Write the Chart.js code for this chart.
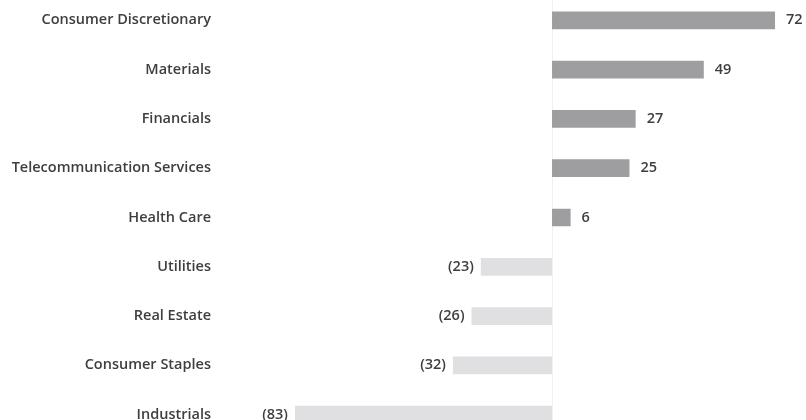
<!DOCTYPE html>
<html>
<head>
<meta charset="utf-8">
<script src="https://cdn.jsdelivr.net/npm/chart.js@4.4.1/dist/chart.umd.min.js"></script>
<style>
  html, body { margin: 0; padding: 0; background: #fff; overflow: hidden; width: 806px; height: 420px; }
  #wrap { position: absolute; left: 0; top: -22px; width: 806px; height: 479px; }
</style>
</head>
<body>
<div id="wrap"><canvas id="chart" width="806" height="479"></canvas></div>
<script>
const sectors = [
  'Consumer Discretionary', 'Materials', 'Financials', 'Telecommunication Services',
  'Health Care', 'Utilities', 'Real Estate', 'Consumer Staples', 'Industrials'
];
const values = [72, 49, 27, 25, 6, -23, -26, -32, -83];

const posColor = '#9e9ea1';
const negColor = '#e0e0e2';
const textColor = '#3e3e3e';
const font = { family: '"Open Sans", Lato, sans-serif', size: 14.5, weight: '600' };

// zero line + value labels next to each bar
const barLabels = {
  id: 'barLabels',
  beforeDatasetsDraw(chart) {
    const { ctx, chartArea } = chart;
    const x0 = chart.scales.x.getPixelForValue(0);
    ctx.save();
    ctx.strokeStyle = '#f0f0f0';
    ctx.lineWidth = 1;
    ctx.beginPath();
    ctx.moveTo(Math.round(x0) + 0.5, chartArea.top);
    ctx.lineTo(Math.round(x0) + 0.5, chartArea.bottom);
    ctx.stroke();
    ctx.restore();
  },
  afterDatasetsDraw(chart) {
    const { ctx } = chart;
    const meta = chart.getDatasetMeta(0);
    ctx.save();
    ctx.font = `${font.weight} ${font.size}px ${font.family}`;
    ctx.fillStyle = textColor;
    ctx.textBaseline = 'middle';
    meta.data.forEach((bar, i) => {
      const v = values[i];
      if (v >= 0) {
        ctx.textAlign = 'left';
        ctx.fillText(String(v), bar.x + 11, bar.y);
      } else {
        ctx.textAlign = 'right';
        ctx.fillText('(' + Math.abs(v) + ')', bar.x - 7, bar.y);
      }
    });
    ctx.restore();
  }
};

new Chart(document.getElementById('chart'), {
  type: 'bar',
  data: {
    labels: sectors,
    datasets: [{
      data: values,
      backgroundColor: values.map(v => (v >= 0 ? posColor : negColor)),
      borderWidth: 0,
      barPercentage: 0.36,
      categoryPercentage: 1
    }]
  },
  options: {
    indexAxis: 'y',
    responsive: false,
    animation: false,
    layout: { padding: 0 },
    plugins: {
      legend: { display: false },
      tooltip: { enabled: false }
    },
    scales: {
      x: {
        display: false,
        min: -107.2,
        max: 82
      },
      y: {
        grid: { display: false, drawTicks: false },
        border: { display: false },
        ticks: { color: textColor, font: font, padding: 9 },
        afterFit(scale) { scale.width = 220; }
      }
    }
  },
  plugins: [barLabels]
});
</script>
</body>
</html>
